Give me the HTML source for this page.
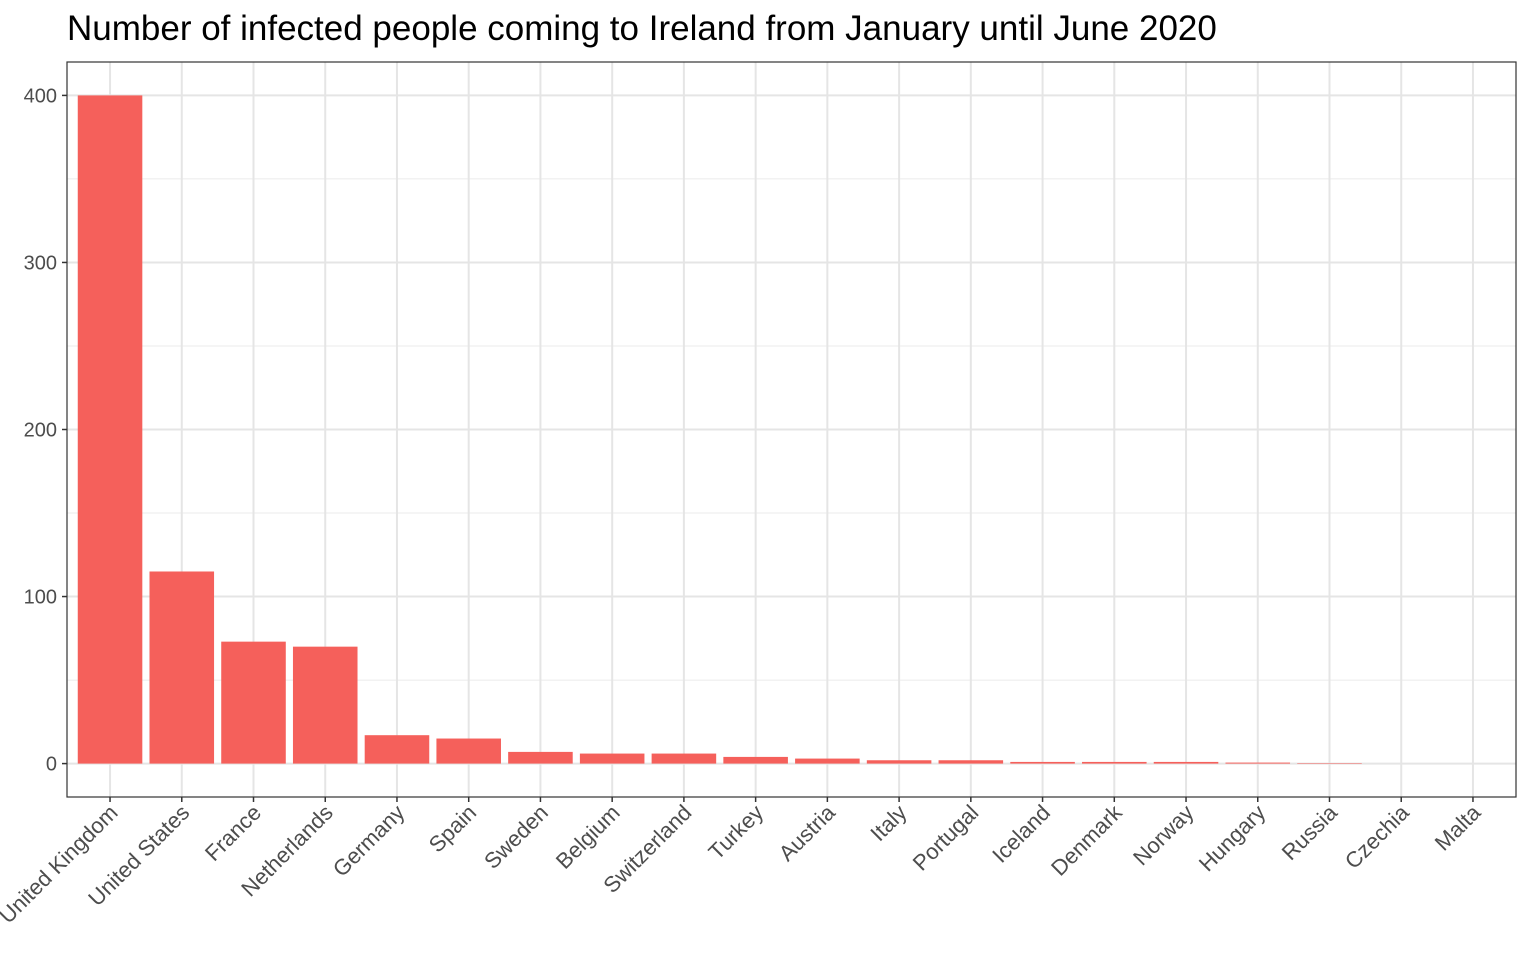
<!DOCTYPE html>
<html><head><meta charset="utf-8"><style>
body{margin:0;background:#fff;}
svg{display:block;font-family:"Liberation Sans",Arial,sans-serif;}
</style></head><body>
<svg id="chart" width="1536" height="960" viewBox="0 0 1536 960">
<text x="67" y="40" font-size="35" fill="#000">Number of infected people coming to Ireland from January until June 2020</text>
<g id="grid"></g><g id="bars"></g><g id="axes"></g>
</svg>
<script>
const categories=["United Kingdom","United States","France","Netherlands","Germany","Spain","Sweden","Belgium","Switzerland","Turkey","Austria","Italy","Portugal","Iceland","Denmark","Norway","Hungary","Russia","Czechia","Malta"];
const values=[400,115,73,70,17,15,7,6,6,4,3,2,2,1,1,1,0.6,0.3,0,0];
const yTicks=[0,100,200,300,400];
const yMinor=[50,150,250,350];
const L=67,R=1516,T=62,B=797;
const ns="http://www.w3.org/2000/svg";
const y=v=>B-(v+20)/440*(B-T);
const step=(R-L)/(categories.length+0.2);
const x=i=>L+step*(0.6+i);
const bw=step*0.9;
function mk(t,a,p){const e=document.createElementNS(ns,t);for(const k in a)e.setAttribute(k,a[k]);p.appendChild(e);return e;}
const g=document.getElementById('grid'),b=document.getElementById('bars'),ax=document.getElementById('axes');
yMinor.forEach(v=>{const e=mk('line',{x1:L,x2:R,y1:y(v),y2:y(v),stroke:'#ebebeb','stroke-width':1},g);

});
yTicks.forEach(v=>{const e=mk('line',{x1:L,x2:R,y1:y(v),y2:y(v),stroke:'#e5e5e5','stroke-width':2},g);


const tk=mk('line',{x1:L-5,x2:L,y1:y(v),y2:y(v),stroke:'#333','stroke-width':1.5},ax);


const t=mk('text',{x:L-10,y:y(v)+7,'text-anchor':'end','font-size':20,fill:'#4d4d4d'},ax);t.textContent=v;

});
categories.forEach((c,i)=>{const e=mk('line',{x1:x(i),x2:x(i),y1:T,y2:B,stroke:'#e5e5e5','stroke-width':2},g);


const r=mk('rect',{x:x(i)-bw/2,y:y(values[i]),width:bw,height:Math.max(0,y(0)-y(values[i])),fill:'#f5605b'},b);


const tk=mk('line',{x1:x(i),x2:x(i),y1:B,y2:B+5,stroke:'#333','stroke-width':1.5},ax);


const t=mk('text',{x:x(i)+9,y:B+17,'text-anchor':'end','font-size':22,fill:'#4d4d4d',transform:`rotate(-45 ${x(i)+9} ${B+17})`},ax);t.textContent=c;

});
const fr=mk('rect',{x:L,y:T,width:R-L,height:B-T,fill:'none',stroke:'#333','stroke-width':1.2},ax);


</script>
</body></html>
